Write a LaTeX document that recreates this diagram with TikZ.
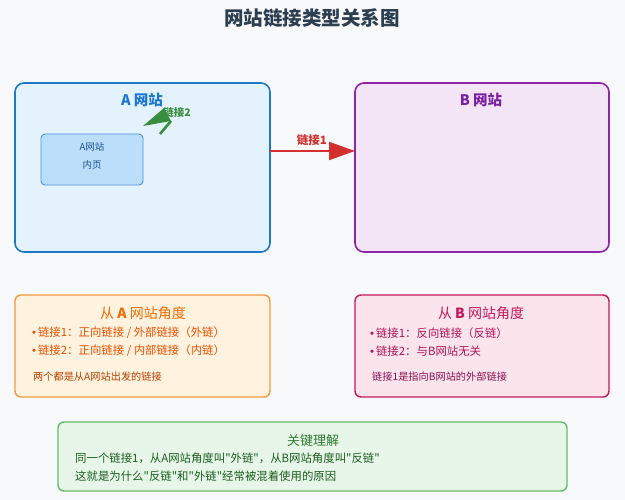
\documentclass[tikz,border=0pt]{standalone}
\usepackage{fontspec}
\setmainfont{Noto Sans CJK SC}
\newfontfamily\cjkf{Noto Sans CJK SC}
\newfontfamily\latf{Liberation Sans}
\newcommand{\bul}{{\latf •}\,}
\usetikzlibrary{arrows.meta}
\definecolor{bgc}{HTML}{F8F9FA}
\definecolor{titlec}{HTML}{2C3E50}
\definecolor{blueline}{HTML}{1E78C8}
\definecolor{bluefill}{HTML}{E3F2FD}
\definecolor{bluetxt}{HTML}{1976D2}
\definecolor{innerfill}{HTML}{BBDEFB}
\definecolor{innertxt}{HTML}{1A4F8F}
\definecolor{purpline}{HTML}{8E24AA}
\definecolor{purpfill}{HTML}{F3E5F5}
\definecolor{purptxt}{HTML}{7B1FA2}
\definecolor{redc}{HTML}{D32F2F}
\definecolor{greenarr}{HTML}{388E3C}
\definecolor{orline}{HTML}{F39A3C}
\definecolor{orfill}{HTML}{FFF3E0}
\definecolor{ortxt}{HTML}{E65100}
\definecolor{ortitle}{HTML}{EF6C00}
\definecolor{pkline}{HTML}{C2185B}
\definecolor{pkfill}{HTML}{FCE4EC}
\definecolor{pktxt}{HTML}{AD1457}
\definecolor{pkdark}{HTML}{880E4F}
\definecolor{grline}{HTML}{66BB6A}
\definecolor{grfill}{HTML}{E8F5E9}
\definecolor{grtitle}{HTML}{2E7D32}
\definecolor{grtxt}{HTML}{1B5E20}
\begin{document}
\cjkf
\begin{tikzpicture}[x=1pt,y=-1pt,
  site/.style={draw, line width=1.6pt, rounded corners=9pt},
  panel/.style={draw, line width=1.4pt, rounded corners=6pt},
  txt/.style={inner sep=0pt, anchor=center},
  ltxt/.style={inner sep=0pt, anchor=west}]
\fill[bgc] (0,0) rectangle (625,500);
\useasboundingbox (0,0) rectangle (625,500);
\node[txt, text=titlec, font=\bfseries\fontsize{19.5}{22}\selectfont] (title) at (312,18) {网站链接类型关系图};
% site A
\draw[site, blueline, fill=bluefill] (15,83) rectangle (270,252);
\node (A) at (142.5,167.5) [minimum width=255pt, minimum height=169pt] {};
\node[txt, text=bluetxt, font=\bfseries\fontsize{14.5}{17}\selectfont] (Atitle) at (142,100) {A 网站};
\draw[blueline!80, line width=0.9pt, fill=innerfill, rounded corners=4pt] (41,134) rectangle (143,185);
\node (inner) at (92,159.5) [minimum width=102pt, minimum height=51pt] {};
\node[txt, text=innertxt, font=\fontsize{9.5}{11}\selectfont] (in1) at (92,147) {A网站};
\node[txt, text=innertxt, font=\fontsize{9.5}{11}\selectfont] (in2) at (92,165) {内页};
% green link 2 arrow
\coordinate (g1) at (143,126);
\coordinate (g2) at (164,108);
\coordinate (g3) at (171,121);
\coordinate (g4) at (160,134);
\fill[greenarr] (g1) -- (g2) -- (g3) -- cycle;
\draw[greenarr, line width=2.6pt] (g3) -- (g4);
\node[txt, text=greenarr, font=\bfseries\fontsize{10.5}{12}\selectfont] (l2) at (177,113) {链接2};
% site B
\draw[site, purpline, fill=purpfill] (355,83) rectangle (609,252);
\node (B) at (482,167.5) [minimum width=254pt, minimum height=169pt] {};
\node[txt, text=purptxt, font=\bfseries\fontsize{14.5}{17}\selectfont] (Btitle) at (481,100) {B 网站};
% link 1
\coordinate (Aedge) at (270,151);
\coordinate (Bedge) at (355,151);
\draw[redc, line width=2pt, -{Triangle[length=26pt,width=18pt]}] (Aedge) -- (Bedge);
\node[txt, text=redc, font=\bfseries\fontsize{11.5}{13}\selectfont] (l1) at (312,140) {链接1};
% orange panel
\draw[panel, orline, fill=orfill] (15,295) rectangle (270,397);
\node[txt, text=ortitle, font=\fontsize{14}{16}\selectfont] (ot) at (143,313) {从 \textbf{A} 网站角度};
\node[ltxt, text=ortxt, font=\fontsize{11.4}{13}\selectfont] (o1) at (32,333) {\bul 链接1：正向链接 / 外部链接（外链）};
\node[ltxt, text=ortxt, font=\fontsize{11.4}{13}\selectfont] (o2) at (32,351) {\bul 链接2：正向链接 / 内部链接（内链）};
\node[ltxt, text=ortxt!80!black, font=\fontsize{10.2}{12}\selectfont] (o3) at (33,377) {两个都是从A网站出发的链接};
% pink panel
\draw[panel, pkline, fill=pkfill] (355,295) rectangle (609,397);
\node[txt, text=pkline, font=\fontsize{14}{16}\selectfont] (pt) at (481,313) {从 \textbf{B} 网站角度};
\node[ltxt, text=pktxt, font=\fontsize{11.4}{13}\selectfont] (p1) at (370,333) {\bul 链接1：反向链接（反链）};
\node[ltxt, text=pktxt, font=\fontsize{11.4}{13}\selectfont] (p2) at (370,351) {\bul 链接2：与B网站无关};
\node[ltxt, text=pkdark, font=\fontsize{10.2}{12}\selectfont] (p3) at (372,377) {链接1是指向B网站的外部链接};
% green panel
\draw[panel, grline, fill=grfill] (58,422) rectangle (567,491);
\node[txt, text=grtitle, font=\fontsize{13}{15}\selectfont] (gt) at (313,441) {关键理解};
\node[ltxt, text=grtxt, font=\fontsize{11.4}{13}\selectfont] (g1t) at (75,458) {同一个链接1，从A网站角度叫"外链"，从B网站角度叫"反链"};
\node[ltxt, text=grtxt, font=\fontsize{11.4}{13}\selectfont] (g2t) at (75,476) {这就是为什么"反链"和"外链"经常被混着使用的原因};
\end{tikzpicture}
\end{document}
